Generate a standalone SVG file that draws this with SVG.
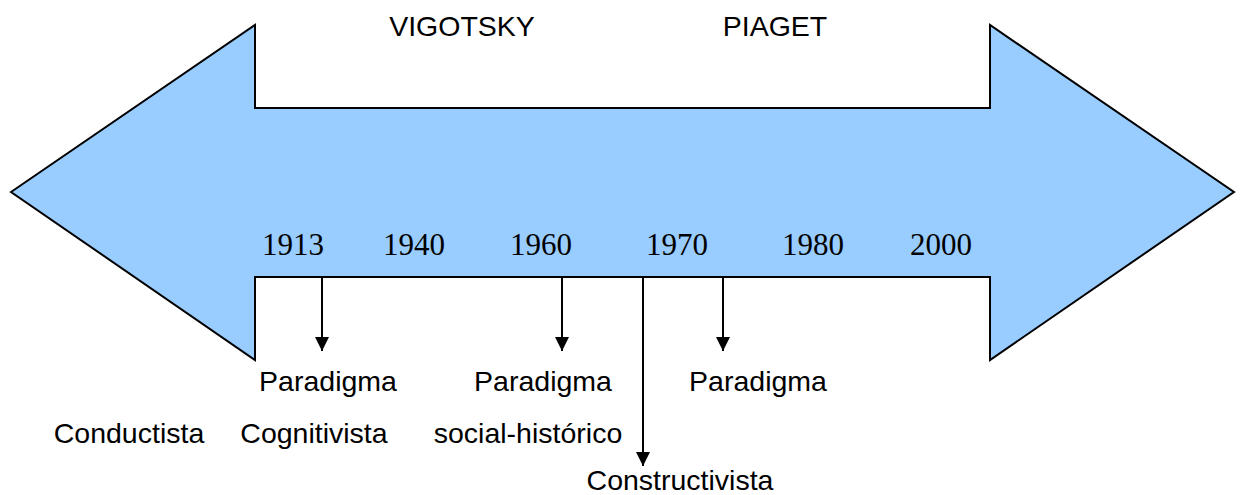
<svg xmlns="http://www.w3.org/2000/svg" width="1241" height="495" viewBox="0 0 1241 495">
<style>
.sans{font-family:"Liberation Sans",Arial,sans-serif;font-size:28.5px;fill:#000;text-anchor:middle}
.yr{font-family:"Liberation Serif","Times New Roman",serif;font-size:31px;fill:#000;text-anchor:middle}
.ln{stroke:#000;stroke-width:2;fill:none}
</style>
<defs>
<marker id="ah" markerWidth="14" markerHeight="14" refX="14" refY="7" orient="auto" markerUnits="userSpaceOnUse">
<path d="M0,0 L14,7 L0,14 Z" fill="#000"/>
</marker>
</defs>
<g id="arrow">
<polygon points="11,192 255,25 255,108 990,108 990,25 1234,192 990,360 990,277 255,277 255,360" fill="#99CCFF" stroke="#000" stroke-width="2" stroke-linejoin="miter"/>
</g>
<g id="headers">
<text class="sans" x="462" y="36">VIGOTSKY</text>
<text class="sans" x="775" y="36">PIAGET</text>
</g>
<g id="years">
<text class="yr" x="293" y="255">1913</text>
<text class="yr" x="414" y="255">1940</text>
<text class="yr" x="541" y="255">1960</text>
<text class="yr" x="677" y="255">1970</text>
<text class="yr" x="813" y="255">1980</text>
<text class="yr" x="941" y="255">2000</text>
</g>
<g id="connectors">
<line class="ln" x1="322" y1="277" x2="322" y2="351" marker-end="url(#ah)"/>
<line class="ln" x1="562" y1="277" x2="562" y2="351" marker-end="url(#ah)"/>
<line class="ln" x1="643" y1="277" x2="643" y2="466" marker-end="url(#ah)"/>
<line class="ln" x1="723" y1="277" x2="723" y2="351" marker-end="url(#ah)"/>
</g>
<g id="conductista"><text class="sans" x="129" y="443">Conductista</text></g>
<g id="cognitivista">
<text class="sans" x="328" y="391">Paradigma</text>
<text class="sans" x="314" y="443">Cognitivista</text>
</g>
<g id="social">
<text class="sans" x="543" y="391">Paradigma</text>
<text class="sans" x="528" y="443">social-histórico</text>
</g>
<g id="constructivista">
<text class="sans" x="758" y="391">Paradigma</text>
<text class="sans" x="680" y="490">Constructivista</text>
</g>
</svg>
